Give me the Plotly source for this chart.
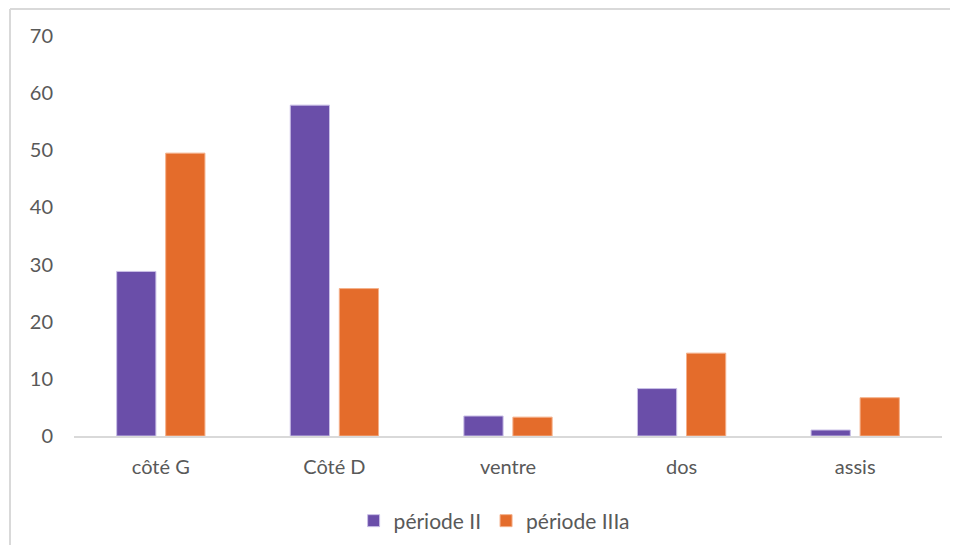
import plotly.graph_objects as go

categories = ["côté G", "Côté D", "ventre", "dos", "assis"]
periode_II = [28.8, 57.9, 3.5, 8.3, 1.05]
periode_IIIa = [49.5, 25.8, 3.3, 14.5, 6.7]
y_ticks = [0, 10, 20, 30, 40, 50, 60, 70]

# page body has an 8px margin; figure is sized to fit inside the window
W, H = 942, 537
L, R, T, B = 66, 8, 28, 109
PW, PH = W - L - R, H - T - B
font = dict(family="Lato, Carlito, Open Sans, sans-serif", size=20, color="#595959")

fig = go.Figure()
fig.add_trace(go.Bar(name="période II", x=categories, y=periode_II,
                     marker=dict(color="#6a4ea9", line=dict(color="#c9bfe6", width=1))))
fig.add_trace(go.Bar(name="période IIIa", x=categories, y=periode_IIIa,
                     marker=dict(color="#e46c2b", line=dict(color="#f4b08a", width=1))))

fig.update_layout(
    width=W, height=H,
    margin=dict(l=L, r=R, t=T, b=B, autoexpand=False),
    paper_bgcolor="white", plot_bgcolor="white",
    font=font,
    barmode="group", bargap=0.435, bargroupgap=0.2,
    showlegend=True,
    legend=dict(orientation="h", x=0.484, xanchor="center",
                yref="container", y=24 / H, yanchor="middle",
                font=dict(family=font["family"], size=21, color="#595959"),
                itemwidth=30, traceorder="normal"),
    xaxis=dict(showgrid=False, showline=True, linecolor="#d9d9d9", linewidth=2,
               ticks="", tickfont=font, zeroline=False, ticklabelstandoff=12),
    yaxis=dict(range=[0, 70], tickvals=y_ticks, showgrid=False, showline=False,
               zeroline=False, ticks="", tickfont=font, ticklabelstandoff=20),
    shapes=[
        dict(type="line", xref="paper", yref="paper",
             x0=(2 - L) / PW, x1=(W + 40 - L) / PW,
             y0=(H - B - 1) / PH, y1=(H - B - 1) / PH,
             line=dict(color="#d9d9d9", width=2)),
        dict(type="line", xref="paper", yref="paper",
             x0=(2 - L) / PW, x1=(2 - L) / PW,
             y0=(H - B - 1) / PH, y1=-(B + 40) / PH,
             line=dict(color="#d9d9d9", width=2)),
    ],
)

fig.write_html("out.html")
